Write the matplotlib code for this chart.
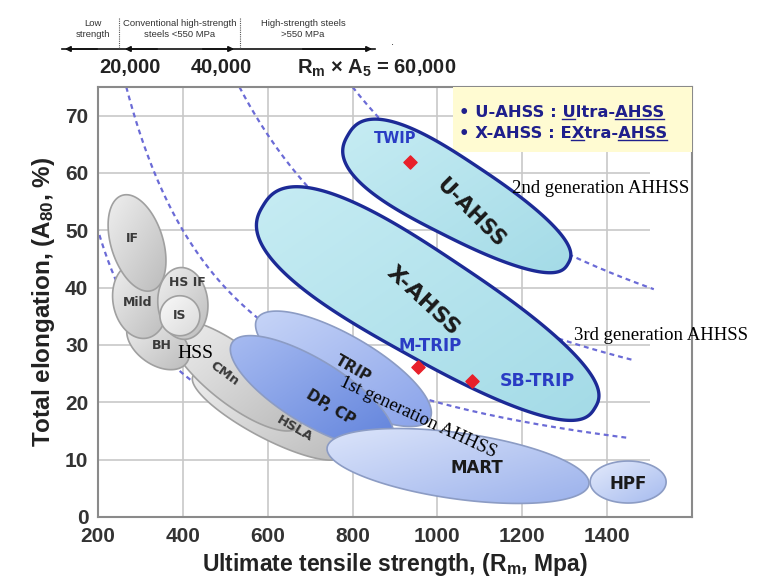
import numpy as np
import matplotlib.pyplot as plt
from matplotlib.patches import Polygon, Rectangle
from matplotlib.colors import to_rgb

plt.rcParams['font.family'] = ['Liberation Sans', 'DejaVu Sans']
plt.rcParams['mathtext.fontset'] = 'custom'
plt.rcParams['mathtext.rm'] = 'Liberation Sans:bold'
plt.rcParams['mathtext.it'] = 'Liberation Sans:bold'
plt.rcParams['mathtext.bf'] = 'Liberation Sans:bold'

# steel grade regions: ends of the long axis (Rm in MPa, A80 in %)
grades = ["HSLA", "CMn", "BH", "Mild", "IF", "HS IF", "IS",
          "TRIP", "DP, CP", "MART", "HPF", "X-AHSS", "U-AHSS"]
rm_lo = [424, 371, 274, 283, 257, 393, 346, 575, 516, 740, 1360, 589, 789]
a_hi = [24.6, 33.5, 33.9, 44.3, 56.1, 43.5, 35.1, 34.6, 30.4, 12.1, 6.1, 54.3, 66.6]
rm_hi = [777, 675, 409, 315, 327, 407, 440, 982, 893, 1357, 1539, 1371, 1308]
a_lo = [10.7, 15.8, 26.9, 31.2, 39.5, 31.0, 35.1, 17.1, 13.3, 5.7, 6.1, 19.0, 44.2]

# label positions of the grades
label_rm = [664, 499, 351, 294, 280, 410, 393, 801, 747, 1093, 1449, 966, 1077]
label_a = [15.4, 25.0, 29.9, 37.4, 48.6, 40.9, 35.1, 25.9, 19.1, 8.6, 5.8, 37.8, 53.0]

# 3rd generation points
points = ["TWIP", "M-TRIP", "SB-TRIP"]
point_rm = [935, 954, 1081]
point_a = [61.9, 26.1, 23.8]
point_label_rm = [900, 982, 1235]
point_label_a = [66.1, 29.9, 23.8]

# Rm x A iso-lines
products = [10000, 20000, 40000, 60000]
product_end = [1000, 1450, 1460, 1510]

x_ticks = [200, 400, 600, 800, 1000, 1200, 1400]
y_ticks = [0, 10, 20, 30, 40, 50, 60, 70]

# styles
half_width = [22, 28, 22, 27, 26, 25, 20, 33, 32, 33, 21, 52, 38]
taper = [0] * 11 + [0.15, 0.2]
shape_exp = [2] * 11 + [2.6, 2.6]
light = ["#efefef"] * 6 + ["#f9f9f9", "#c6d4f7", "#a7bbf1", "#dbe4fa", "#e3eafb", "#c6ecf3", "#c6ecf3"]
dark = ["#bcbcbc"] * 6 + ["#dadada", "#8aa3ea", "#6183dc", "#9cb2ec", "#a6bbef", "#a4dbe7", "#a4dbe7"]
edge = ["#a0a0a0"] * 7 + ["#8c9cc4"] * 4 + ["#1c2a96", "#1c2a96"]
lw = [1.2] * 11 + [2.4, 2.4]
label_rot = [-30, -36, 0, 0, 0, 0, 0, -30, -31, 0, 0, -43, -45]
label_size = [9.5, 9.5, 9, 9, 9, 9, 9, 11, 11, 12, 12, 16, 15]

fig = plt.figure(figsize=(7.59, 5.87), dpi=100)
ax = fig.add_axes([98 / 759, 70 / 587, 594 / 759, 430 / 587])
ax.set_xlim(200, 1600)
ax.set_ylim(0, 75)

for v in x_ticks[1:]:
    ax.vlines(v, 0, 75, color="#c8c8c8", lw=1.2, zorder=0)
for v in y_ticks[1:]:
    ax.hlines(v, 200, 1500, color="#c8c8c8", lw=1.2, zorder=0)

for c, end in zip(products, product_end):
    xs = np.linspace(c / 75, end, 300)
    ax.plot(xs, c / xs, color="#6b6bd6", lw=1.6, ls=(0, (2.2, 1.8)), zorder=1)


def region(i):
    p1 = ax.transData.transform((rm_lo[i], a_hi[i]))
    p2 = ax.transData.transform((rm_hi[i], a_lo[i]))
    c = (p1 + p2) / 2
    a = np.hypot(*(p2 - p1)) / 2
    ang = np.arctan2(p2[1] - p1[1], p2[0] - p1[0])
    t = np.linspace(0, 2 * np.pi, 240)
    e = 2 / shape_exp[i]
    u = a * np.sign(np.cos(t)) * np.abs(np.cos(t)) ** e
    w = half_width[i] * np.sign(np.sin(t)) * np.abs(np.sin(t)) ** e
    w = w * (1 - taper[i] * u / a)
    pts = np.column_stack([c[0] + u * np.cos(ang) - w * np.sin(ang),
                           c[1] + u * np.sin(ang) + w * np.cos(ang)])
    return ax.transData.inverted().transform(pts)


n = 60
gi, gj = np.mgrid[0:n, 0:n] / (n - 1)
grad = ((gi + gj) / 2)[..., None]

for i, g in enumerate(grades):
    pts = region(i)
    z = 2 + i * 0.1
    fill = Polygon(pts, closed=True, fc=dark[i], ec="none", zorder=z)
    ax.add_patch(fill)
    img = np.array(to_rgb(light[i])) * (1 - grad) + np.array(to_rgb(dark[i])) * grad
    im = ax.imshow(img, extent=(pts[:, 0].min(), pts[:, 0].max(), pts[:, 1].min(), pts[:, 1].max()),
                   aspect="auto", interpolation="bilinear", zorder=z + 0.01)
    im.set_clip_path(fill)
    ax.add_patch(Polygon(pts, closed=True, fc="none", ec=edge[i], lw=lw[i], zorder=z + 0.02))
    color = "#1a1a1a" if i >= 7 else "#3a3a3a"
    ax.text(label_rm[i], label_a[i], g, rotation=label_rot[i], ha="center", va="center",
            fontsize=label_size[i], fontweight="bold", color=color, zorder=5,
            family=["DejaVu Sans"])

ax.set_xlim(200, 1600)
ax.set_ylim(0, 75)

ax.scatter(point_rm, point_a, marker="D", s=45, color="#e8202a", zorder=6)
point_size = [10.5, 12, 12.5]
for name, x, y, s in zip(points, point_label_rm, point_label_a, point_size):
    ax.text(x, y, name, ha="center", va="center", fontsize=s, fontweight="bold",
            color="#2a3cc4", zorder=6, family=["DejaVu Sans"])

serif = ["Liberation Serif", "DejaVu Serif"]
ax.text(386, 28.5, "HSS", family=serif, fontsize=14, ha="left", va="center", zorder=7)
ax.text(1176, 57.3, "2nd generation AHHSS", family=serif, fontsize=13.5, ha="left", va="center",
        zorder=7, clip_on=False)
ax.text(1322, 31.6, "3rd generation AHHSS", family=serif, fontsize=13.5, ha="left", va="center",
        zorder=7, clip_on=False)
ax.text(954, 17.3, "1st generation AHHSS", family=serif, fontsize=13.5, rotation=-25,
        ha="center", va="center", zorder=7)

# legend box
ax.add_patch(Rectangle((0.597, 0.85), 0.403, 0.15, transform=ax.transAxes,
                       fc="#fffbd2", ec="none", zorder=3))
leg_lines = ["• U-AHSS : Ultra-AHSS", "• X-AHSS : EXtra-AHSS"]
underline = [[("• U-AHSS : ", "U"), ("• U-AHSS : Ultra-", "AHSS")],
             [("• X-AHSS : E", "X"), ("• X-AHSS : EXtra-", "AHSS")]]
leg_font = dict(fontsize=11.8, fontweight="bold", family=["DejaVu Sans"])
renderer = fig.canvas.get_renderer()
inv = ax.transAxes.inverted()
for k, (txt, ys) in enumerate(zip(leg_lines, [0.94, 0.891])):
    t = ax.text(0.607, ys, txt, transform=ax.transAxes, color="#1f1f8c", va="center",
                ha="left", zorder=6, **leg_font)
    bb = t.get_window_extent(renderer)
    for pre, word in underline[k]:
        m = ax.text(0, 0, pre, **leg_font)
        x0 = bb.x0 + m.get_window_extent(renderer).width
        m.set_text(pre + word)
        x1 = bb.x0 + m.get_window_extent(renderer).width
        m.remove()
        (ax0, ay0), (ax1, _) = inv.transform([(x0, bb.y0 + 1), (x1, bb.y0 + 1)])
        ax.plot([ax0, ax1], [ay0, ay0], transform=ax.transAxes, color="#1f1f8c", lw=1, zorder=6)

ax.set_xticks(x_ticks)
ax.set_yticks(y_ticks)
ax.tick_params(length=0, labelsize=15, colors="#333333", pad=7)
for lab in ax.get_xticklabels() + ax.get_yticklabels():
    lab.set_fontweight("bold")
for s in ax.spines.values():
    s.set_color("#8a8a8a")
    s.set_linewidth(1.5)
ax.set_xlabel("Ultimate tensile strength, (R$_m$, Mpa)", fontsize=16.5, fontweight="bold",
              color="#222222", labelpad=4)
ax.set_ylabel("Total elongation, (A$_{80}$, %)", fontsize=17.5, fontweight="bold",
              color="#222222", labelpad=6)

# header above the plot
yh = 1 - 49 / 587
arrow = dict(arrowstyle="-|>", color="#111111", lw=1.2, mutation_scale=8)
fig.add_artist(plt.Line2D([62 / 759, 375 / 759], [yh, yh], color="#111111", lw=1.2))
for xa, xb in [(100, 62), (160, 122), (200, 237), (300, 375)]:
    plt.annotate("", xy=(xb / 759, yh), xytext=(xa / 759, yh), xycoords="figure fraction",
                 textcoords="figure fraction", arrowprops=arrow)
for xv in [119, 240]:
    fig.add_artist(plt.Line2D([xv / 759, xv / 759], [1 - 18 / 587, yh], color="#555555",
                              lw=0.8, ls=(0, (1, 1))))
fig.text(392 / 759, 1 - 42 / 587, ".", fontsize=8, ha="center", va="center", color="#222222")
small = [("Low\nstrength", 93), ("Conventional high-strength\nsteels <550 MPa", 180),
         ("High-strength steels\n>550 MPa", 303)]
for txt, xc in small:
    fig.text(xc / 759, 1 - 29 / 587, txt, fontsize=6.8, ha="center", va="center",
             color="#333333", linespacing=1.2)
fig.text(130 / 759, 1 - 68 / 587, "20,000", fontsize=14.5, fontweight="bold", ha="center",
         va="center", color="#222222")
fig.text(221 / 759, 1 - 68 / 587, "40,000", fontsize=14.5, fontweight="bold", ha="center",
         va="center", color="#222222")
fig.text(297 / 759, 1 - 68 / 587, "R$_m$ × A$_5$ = 60,000", fontsize=14.5, fontweight="bold",
         ha="left", va="center", color="#222222")

fig.savefig("out.png", dpi=100)
